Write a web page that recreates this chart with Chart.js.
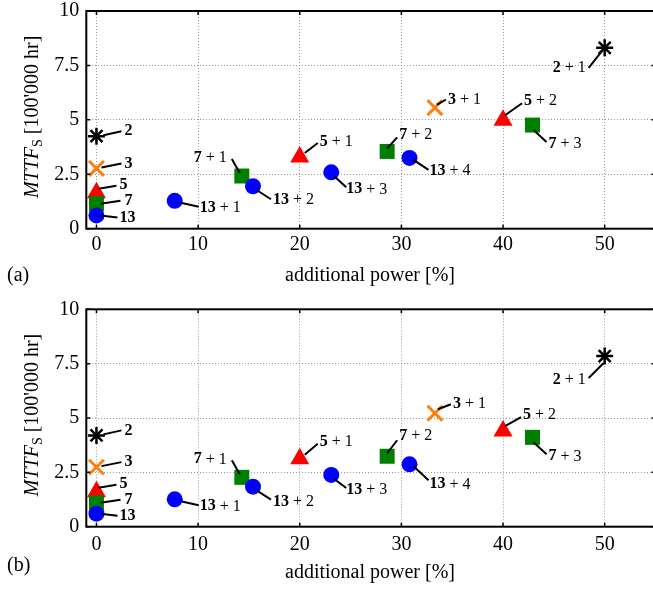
<!DOCTYPE html>
<html>
<head>
<meta charset="utf-8">
<script src="https://cdn.jsdelivr.net/npm/chart.js@4.4.1/dist/chart.umd.min.js"></script>
<style>
  html, body { margin: 0; padding: 0; background: #fff; overflow: hidden; }
  canvas { display: block; }
</style>
</head>
<body>
<!-- the plot box runs a few px past the right edge of the window, as in the source figure -->
<canvas id="chartA" width="656" height="295"></canvas>
<canvas id="chartB" width="656" height="296"></canvas>
<script>
// phases of each converter, bold part of the point labels
const PHASES = ["2", "3", "5", "7", "13"];
// number of added spare phases for each point
const SPARES = [[0, 1], [0, 1], [0, 1, 2], [0, 1, 2, 3], [0, 1, 2, 3, 4]];
// additional power [%]
const POWER = [[0, 50], [0, 33.3], [0, 20, 40], [0, 14.3, 28.6, 42.9], [0, 7.7, 15.4, 23.1, 30.8]];
// MTTF_S [100'000 hr], plot (a) and plot (b)
const MTTF_A = [[4.25, 8.31], [2.77, 5.56], [1.65, 3.29, 4.98], [1.15, 2.42, 3.55, 4.76], [0.61, 1.28, 1.95, 2.59, 3.25]];
const MTTF_B = [[4.2, 7.85], [2.74, 5.22], [1.61, 3.13, 4.40], [1.1, 2.27, 3.24, 4.11], [0.6, 1.26, 1.84, 2.38, 2.87]];
const X_TICKS = [0, 10, 20, 30, 40, 50];
const Y_TICKS = [0, 2.5, 5, 7.5, 10];

const SERIF = "'Liberation Serif', 'Times New Roman', serif";

const MARKERS = [
  { style: "star", radius: 8.5, fill: null, stroke: "#000000", width: 2.5 },
  { style: "crossRot", radius: 10.5, fill: null, stroke: "#ff7f0e", width: 3 },
  { style: "triangle", radius: 11, fill: "#ff0000", stroke: "#ff0000", width: 0 },
  { style: "rect", radius: 10.6, fill: "#008000", stroke: "#008000", width: 0 },
  { style: "circle", radius: 8, fill: "#0000ff", stroke: "#0000ff", width: 0 }
];

// leader line + label placement, px from the marker:
// [x1, y1, x2, y2, textX, textY, align]
const LABEL_POS_A = [
  [[7, -1, 25, -5, 28, -5, "left"], [-16, 20, -1, 1, -19, 20, "right"]],
  [[5, -1, 25, -5, 28, -5, "left"], [2, -3, 11, -8, 13, -8, "left"]],
  [[2, -4, 20, -7, 23, -8, "left"], [5, -4, 18, -14, 20, -15, "left"], [2, -5, 19, -17, 21, -19, "left"]],
  [[4, 0, 24, -3, 28, -3, "left"], [-2, -3, -10, -17, -15, -18, "right"], [0, -3, 10, -14, 12, -17, "left"], [1, 5, 14, 17, 16, 19, "left"]],
  [[4, 0, 21, 2, 23, 2, "left"], [6, 2, 24, 6, 25, 7, "left"], [4, 4, 18, 13, 20, 14, "left"], [3, 4, 15, 15, 15, 17, "left"], [4, 2, 19, 12, 20, 13, "left"]]
];
const LABEL_POS_B = [
  [[7, -1, 25, -5, 28, -5, "left"], [-16, 22, -1, 7, -19, 24, "right"]],
  [[5, -1, 25, -5, 28, -5, "left"], [3, -4, 16, -9, 18, -9, "left"]],
  [[2, -4, 20, -7, 23, -8, "left"], [5, -4, 18, -15, 20, -17, "left"], [2, -5, 18, -14, 20, -16, "left"]],
  [[4, 0, 24, -3, 28, -3, "left"], [-2, -3, -10, -17, -15, -18, "right"], [0, -3, 10, -16, 12, -20, "left"], [1, 5, 14, 17, 16, 19, "left"]],
  [[4, 0, 21, 2, 23, 2, "left"], [6, 2, 24, 6, 25, 7, "left"], [4, 4, 18, 13, 20, 15, "left"], [3, 4, 15, 13, 15, 15, "left"], [4, 2, 19, 16, 20, 20, "left"]]
];

function buildDatasets(mttf) {
  return PHASES.map((p, i) => {
    const m = MARKERS[i];
    return {
      label: p,
      data: POWER[i].map((x, j) => ({ x, y: mttf[i][j] })),
      showLine: false,
      pointStyle: m.style,
      pointRadius: m.radius,
      pointHoverRadius: m.radius,
      pointBackgroundColor: m.fill || "rgba(0,0,0,0)",
      pointBorderColor: m.stroke,
      pointBorderWidth: m.width,
      order: PHASES.length - 1 - i,
      clip: false
    };
  });
}

// keep the plot box exactly where the layout padding puts it
function zeroPadding(s) {
  s.paddingLeft = 0;
  s.paddingTop = 0;
  s.paddingBottom = 0;
  s.paddingRight = 0;
}

function drawLabel(ctx, x, y, bold, rest, align) {
  ctx.font = "bold 16px " + SERIF;
  const wb = ctx.measureText(bold).width;
  ctx.font = "16px " + SERIF;
  const wr = ctx.measureText(rest).width;
  let left = align === "right" ? x - wb - wr : x;
  ctx.textAlign = "left";
  ctx.textBaseline = "middle";
  ctx.fillStyle = "#000";
  ctx.font = "bold 16px " + SERIF;
  ctx.fillText(bold, left, y);
  if (rest) {
    ctx.font = "16px " + SERIF;
    ctx.fillText(rest, left + wb, y);
  }
}

const decorPlugin = {
  id: "decor",
  afterDatasetsDraw(chart, args, opts) {
    const { ctx } = chart;
    const xs = chart.scales.x;
    const ys = chart.scales.y;
    ctx.save();
    PHASES.forEach((p, i) => {
      POWER[i].forEach((x, j) => {
        const px = xs.getPixelForValue(x);
        const py = ys.getPixelForValue(opts.mttf[i][j]);
        const L = opts.labels[i][j];
        ctx.strokeStyle = "#000";
        ctx.lineWidth = 2;
        ctx.beginPath();
        ctx.moveTo(px + L[0], py + L[1]);
        ctx.lineTo(px + L[2], py + L[3]);
        ctx.stroke();
        const rest = SPARES[i][j] > 0 ? " + " + SPARES[i][j] : "";
        drawLabel(ctx, px + L[4], py + L[5], p, rest, L[6]);
      });
    });
    ctx.restore();
  },
  afterDraw(chart, args, opts) {
    const { ctx, chartArea: a } = chart;
    const xs = chart.scales.x;
    const ys = chart.scales.y;
    ctx.save();
    // frame with inward ticks
    ctx.strokeStyle = "#000";
    ctx.lineWidth = 2;
    ctx.strokeRect(a.left, a.top, a.right - a.left, a.bottom - a.top);
    ctx.lineWidth = 1.5;
    ctx.beginPath();
    X_TICKS.forEach(v => {
      const px = xs.getPixelForValue(v);
      ctx.moveTo(px, a.bottom); ctx.lineTo(px, a.bottom - 4);
      ctx.moveTo(px, a.top); ctx.lineTo(px, a.top + 4);
    });
    Y_TICKS.forEach(v => {
      const py = ys.getPixelForValue(v);
      ctx.moveTo(a.left, py); ctx.lineTo(a.left + 4, py);
      ctx.moveTo(a.right, py); ctx.lineTo(a.right - 4, py);
    });
    ctx.stroke();

    // axis titles and panel tag
    ctx.fillStyle = "#000";
    ctx.textBaseline = "middle";
    ctx.textAlign = "center";
    ctx.font = "20px " + SERIF;
    ctx.fillText("additional power [%]", 370, opts.xTitleY);
    ctx.textAlign = "left";
    ctx.fillText(opts.tag, 7, opts.tagY);

    ctx.translate(33, (a.top + a.bottom) / 2 - 3);
    ctx.rotate(-Math.PI / 2);
    const parts = [
      { t: "MTTF", f: "italic 20px " + SERIF, dy: 0 },
      { t: "S", f: "14px " + SERIF, dy: 5 },
      { t: " [100'000 hr]", f: "20px " + SERIF, dy: 0 }
    ];
    let total = 0;
    parts.forEach(pt => { ctx.font = pt.f; total += ctx.measureText(pt.t).width; });
    let cx = -total / 2;
    parts.forEach(pt => {
      ctx.font = pt.f;
      ctx.fillText(pt.t, cx, pt.dy);
      cx += ctx.measureText(pt.t).width;
    });
    ctx.restore();
  }
};

function makeChart(canvas, mttf, labels, cfg) {
  return new Chart(canvas, {
    type: "scatter",
    data: { datasets: buildDatasets(mttf) },
    options: {
      responsive: false,
      animation: false,
      events: [],
      layout: { autoPadding: false, padding: { left: 0, top: cfg.top, right: 0.5, bottom: 0 } },
      plugins: {
        legend: { display: false },
        tooltip: { enabled: false },
        decor: { mttf, labels, tag: cfg.tag, tagY: cfg.tagY, xTitleY: cfg.xTitleY }
      },
      scales: {
        x: {
          type: "linear",
          min: -1,
          max: 55,
          afterBuildTicks: s => { s.ticks = X_TICKS.map(v => ({ value: v })); },
          afterFit: s => { s.height = cfg.xHeight; zeroPadding(s); },
          grid: { color: "#9a9a9a", lineWidth: 1, drawTicks: false },
          border: { display: false, dash: [1, 2] },
          ticks: {
            autoSkip: false,
            maxRotation: 0,
            padding: cfg.tickPad,
            color: "#000",
            font: { family: SERIF, size: 20 },
            callback: v => String(v)
          }
        },
        y: {
          type: "linear",
          min: 0,
          max: 10,
          afterBuildTicks: s => { s.ticks = Y_TICKS.map(v => ({ value: v })); },
          afterFit: s => { s.width = 86.3; zeroPadding(s); },
          grid: { color: "#9a9a9a", lineWidth: 1, drawTicks: false },
          border: { display: false, dash: [1, 2] },
          ticks: {
            autoSkip: false,
            padding: 7,
            color: "#000",
            font: { family: SERIF, size: 20 },
            callback: v => String(v)
          }
        }
      }
    },
    plugins: [decorPlugin]
  });
}

makeChart(document.getElementById("chartA"), MTTF_A, LABEL_POS_A,
  { top: 11, xHeight: 66.3, tickPad: 4, tag: "(a)", tagY: 276, xTitleY: 276 });
makeChart(document.getElementById("chartB"), MTTF_B, LABEL_POS_B,
  { top: 14.3, xHeight: 64.3, tickPad: 6, tag: "(b)", tagY: 271, xTitleY: 278 });
</script>
</body>
</html>
